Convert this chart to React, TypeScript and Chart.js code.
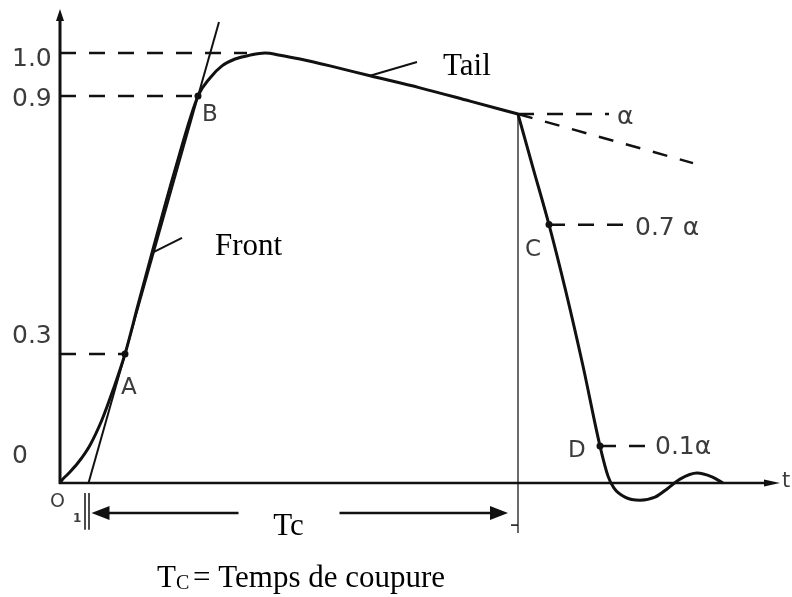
import React, { useEffect, useRef } from "react";
import { Chart, registerables } from "chart.js";

Chart.register(...registerables);

// Impulse front and tail up to the chopping instant (time in arbitrary units, voltage as fraction of crest)
const waveTime = [0, 0.4, 1.6, 3.6, 6.0, 8.4, 10.6, 13.0, 15.6, 18.4, 23.0, 27.6, 30.0, 32.4, 35.0, 38.0, 41.0, 44.0, 48.0, 54.0, 62.0, 72.0, 82.0, 91.6];
const waveVolt = [0, 0.007, 0.021, 0.047, 0.088, 0.147, 0.216, 0.3, 0.414, 0.535, 0.728, 0.9, 0.942, 0.97, 0.986, 0.995, 1.0, 0.995, 0.986, 0.97, 0.947, 0.919, 0.888, 0.858];

// Collapse after chopping, with the small oscillation around zero
const chopTime = [91.6, 94.6, 97.8, 101.2, 104.6, 108.0, 109.6, 110.8, 113.0, 116.0, 119.0, 121.6, 124.0, 127.4, 130.4, 132.6];
const chopVolt = [0.858, 0.733, 0.601, 0.444, 0.272, 0.0858, 0.016, -0.012, -0.033, -0.04, -0.033, -0.012, 0.009, 0.023, 0.014, 0];

// Vertical axis labels
const tickValues = [1.0, 0.9, 0.3, 0];
const tickLabels = ["1.0", "0.9", "0.3", "0"];

// Reference points on the wave
const pointNames = ["A", "B", "C", "D"];
const pointTime = [13.0, 27.6, 97.8, 108.0];
const pointVolt = [0.3, 0.9, 0.601, 0.0858];

// Crest reference levels on the front
const crestLevels = [1.0, 0.9, 0.3];
const crestLevelEnd = [37.4, 27.6, 13.0];

// Chopping instant and levels relative to the chopping voltage α
const chopInstant = 91.6;
const chopLevel = 0.858;
const chopFractions = [1, 0.7, 0.1];
const chopLabels = ["α", "0.7 α", "0.1α"];
const chopLevelStart = [91.6, 97.8, 108.0];
const chopLevelEnd = [109.8, 114.4, 118.0];

// Straight line through A and B, and the virtual origin O1 where it meets the time axis
const tangentTime = [5.7, 31.8];
const tangentVolt = [0, 1.072];
const virtualOrigin = 5.7;

// Prolongation of the tail beyond the chopping instant
const decayTime = [91.6, 126.6];
const decayVolt = [0.858, 0.744];

// Leader lines for the annotations
const frontLeaderTime = [18.4, 24.4];
const frontLeaderVolt = [0.535, 0.57];
const tailLeaderTime = [62.0, 71.4];
const tailLeaderVolt = [0.947, 0.979];

const tcLabelTime = 45.7;
const tcArrowVolt = -0.07;

const xMax = 143;
const yMin = -0.25;
const yMax = 1.1;

const INK = "#111111";
const GREY_TEXT = "#3c3c3c";
const SANS = '"DejaVu Sans", Verdana, sans-serif';
const SERIF = '"Liberation Serif", "Times New Roman", serif';

const xy = (t: number[], v: number[]) => t.map((x, i) => ({ x, y: v[i] }));

const annotate = {
  id: "annotate",
  afterDatasetsDraw(chart: any) {
    const { ctx, scales } = chart;
    const X = (v: number) => scales.x.getPixelForValue(v);
    const Y = (v: number) => scales.y.getPixelForValue(v);
    ctx.save();

    const arrowHead = (tipX: number, tipY: number, dx: number, dy: number, len: number, half: number) => {
      const nx = -dy;
      const ny = dx;
      ctx.beginPath();
      ctx.moveTo(tipX, tipY);
      ctx.lineTo(tipX - dx * len + nx * half, tipY - dy * len + ny * half);
      ctx.lineTo(tipX - dx * len - nx * half, tipY - dy * len - ny * half);
      ctx.closePath();
      ctx.fill();
    };

    // Axes
    const ox = X(0);
    const oy = Y(0);
    ctx.strokeStyle = INK;
    ctx.fillStyle = INK;
    ctx.lineWidth = 3;
    ctx.lineCap = "butt";
    ctx.beginPath();
    ctx.moveTo(ox, oy + 1);
    ctx.lineTo(ox, Y(yMax) + 8);
    ctx.stroke();
    arrowHead(ox, Y(yMax) - 1, 0, -1, 12, 4);
    ctx.lineWidth = 2.6;
    ctx.beginPath();
    ctx.moveTo(ox - 1, oy);
    ctx.lineTo(X(xMax) - 6, oy);
    ctx.stroke();
    arrowHead(X(xMax) + 5, oy, 1, 0, 16, 3.5);

    // Time-to-chop arrow
    const tcY = Y(tcArrowVolt);
    const tcMid = X(tcLabelTime);
    const tcL = X(virtualOrigin) + 3;
    const tcR = X(chopInstant) - 10;
    ctx.lineWidth = 2.5;
    ctx.beginPath();
    ctx.moveTo(tcL + 10, tcY);
    ctx.lineTo(tcMid - 50, tcY);
    ctx.moveTo(tcMid + 51, tcY);
    ctx.lineTo(tcR - 10, tcY);
    ctx.stroke();
    arrowHead(tcL, tcY, -1, 0, 18, 7);
    arrowHead(tcR, tcY, 1, 0, 18, 7);
    ctx.lineWidth = 1.5;
    ctx.beginPath();
    ctx.moveTo(X(chopInstant) - 7, tcY + 12);
    ctx.lineTo(X(chopInstant), tcY + 12);
    ctx.stroke();

    // Vertical axis labels
    const tickShift = [13, 10, -11, -20];
    ctx.fillStyle = GREY_TEXT;
    ctx.font = `25px ${SANS}`;
    ctx.textAlign = "left";
    ctx.textBaseline = "alphabetic";
    tickValues.forEach((v, i) => {
      ctx.fillText(tickLabels[i], 12, Y(v) + tickShift[i]);
    });

    // Origin and time labels
    ctx.font = `19px ${SANS}`;
    ctx.fillText("O", ox - 10, oy + 24);
    ctx.font = `bold 12px ${SANS}`;
    ctx.fillText("1", ox + 13, oy + 39);
    ctx.font = `21px ${SANS}`;
    ctx.fillText("t", X(xMax) + 7, oy + 4);

    // Point letters
    const letterShift = [
      [-4, 40],
      [4, 25],
      [-24, 31],
      [-32, 11],
    ];
    ctx.font = `23px ${SANS}`;
    pointNames.forEach((n, i) => {
      ctx.fillText(n, X(pointTime[i]) + letterShift[i][0], Y(pointVolt[i]) + letterShift[i][1]);
    });

    // Chopping-level labels
    const chopShift = [
      [8, 10],
      [3, 10],
      [5, 8],
    ];
    ctx.font = `25px ${SANS}`;
    chopLabels.forEach((l, i) => {
      ctx.fillText(l, X(chopLevelEnd[i]) + chopShift[i][0], Y(chopLevel * chopFractions[i]) + chopShift[i][1]);
    });

    // Serif annotations
    ctx.fillStyle = "#000";
    ctx.font = `31px ${SERIF}`;
    ctx.fillText("Front", X(frontLeaderTime[1]) + 33, Y(frontLeaderVolt[1]) + 17);
    ctx.fillText("Tail", X(tailLeaderTime[1]) + 26, Y(tailLeaderVolt[1]) + 13);
    ctx.textAlign = "center";
    ctx.fillText("Tc", tcMid, tcY + 22);

    // Caption
    ctx.textAlign = "left";
    ctx.fillText("T", 157, 587);
    ctx.font = `20px ${SERIF}`;
    ctx.fillText("C", 176, 589);
    ctx.font = `31px ${SERIF}`;
    ctx.fillText("= Temps de coupure", 193, 587);

    ctx.restore();
  },
};

export default function App() {
  const canvasRef = useRef<HTMLCanvasElement | null>(null);

  useEffect(() => {
    const canvas = canvasRef.current;
    if (!canvas) return;

    const dashed = (data: { x: number; y: number }[], dash: number[] = [16, 13]) => ({
      data,
      borderColor: INK,
      borderWidth: 2.5,
      borderDash: dash,
      pointRadius: 0,
      tension: 0,
    });
    const solid = (data: { x: number; y: number }[], width: number, color = INK) => ({
      data,
      borderColor: color,
      borderWidth: width,
      pointRadius: 0,
      tension: 0,
    });

    const datasets: any[] = [
      {
        ...solid(xy(waveTime, waveVolt), 3),
        cubicInterpolationMode: "monotone",
      },
      {
        ...solid(xy(chopTime, chopVolt), 3),
        cubicInterpolationMode: "monotone",
      },
      solid(xy(tangentTime, tangentVolt), 2),
      solid(xy(frontLeaderTime, frontLeaderVolt), 2),
      solid(xy(tailLeaderTime, tailLeaderVolt), 2),
      solid(
        [
          { x: chopInstant, y: chopLevel },
          { x: chopInstant, y: -0.116 },
        ],
        1.8,
        "#5a5a5a"
      ),
      solid(
        [
          { x: virtualOrigin - 0.7, y: -0.023 },
          { x: virtualOrigin - 0.7, y: -0.109 },
        ],
        1.5
      ),
      solid(
        [
          { x: virtualOrigin + 0.1, y: -0.023 },
          { x: virtualOrigin + 0.1, y: -0.109 },
        ],
        1.5
      ),
      dashed(xy(decayTime, decayVolt), [15, 13]),
      ...crestLevels.map((l, i) =>
        dashed([
          { x: 0, y: l },
          { x: crestLevelEnd[i], y: l },
        ])
      ),
      ...chopFractions.map((f, i) =>
        dashed([
          { x: chopLevelStart[i], y: chopLevel * f },
          { x: chopLevelEnd[i], y: chopLevel * f },
        ])
      ),
      {
        data: xy(pointTime, pointVolt),
        showLine: false,
        pointRadius: 3.5,
        pointBackgroundColor: INK,
        pointBorderWidth: 0,
      },
    ];

    const chart = new Chart(canvas, {
      type: "line",
      data: { datasets },
      options: {
        responsive: false,
        animation: false,
        parsing: false as any,
        layout: { padding: { left: 60, right: 17, top: 10, bottom: 6.5 } },
        scales: {
          x: { type: "linear", min: 0, max: xMax, display: false },
          y: { type: "linear", min: yMin, max: yMax, display: false },
        },
        plugins: {
          legend: { display: false },
          tooltip: { enabled: false },
        },
      },
      plugins: [annotate],
    });

    return () => chart.destroy();
  }, []);

  return (
    <div style={{ position: "absolute", left: 0, top: 0, width: 792, height: 597, background: "#fff" }}>
      <canvas ref={canvasRef} width={792} height={597} style={{ display: "block" }} />
    </div>
  );
}
